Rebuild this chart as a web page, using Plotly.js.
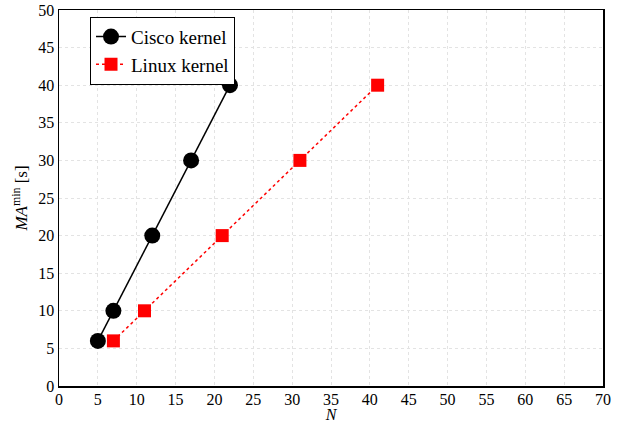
<!DOCTYPE html>
<html>
<head>
<meta charset="utf-8">
<script src="https://cdn.plot.ly/plotly-3.0.1.min.js"></script>
<style>html,body{margin:0;padding:0;background:#fff;}#chart{width:628px;height:423px;}</style>
</head>
<body>
<div id="chart"></div>
<script>
const ciscoN = [5, 7, 12, 17, 22];
const ciscoMA = [6, 10, 20, 30, 40];
const linuxN = [7, 11, 21, 31, 41];
const linuxMA = [6, 10, 20, 30, 40];
const xTicks = [0,5,10,15,20,25,30,35,40,45,50,55,60,65,70];
const yTicks = [0,5,10,15,20,25,30,35,40,45,50];

const FAM = '"Liberation Serif", "DejaVu Serif", serif';
function f(size) { return {family: FAM, size: size, color: '#000'}; }

const traces = [
  {x: ciscoN, y: ciscoMA, name: 'Cisco kernel', mode: 'lines+markers',
   line: {color: '#000', width: 1.5, dash: 'solid'},
   marker: {symbol: 'circle', size: 16, color: '#000'}},
  {x: linuxN, y: linuxMA, name: 'Linux kernel', mode: 'lines+markers',
   line: {color: '#ff0000', width: 1.5, dash: 'dot'},
   marker: {symbol: 'square', size: 13, color: '#ff0000'}}
];

const layout = {
  width: 628, height: 423,
  margin: {l: 59, r: 25, t: 10, b: 37},
  paper_bgcolor: '#fff', plot_bgcolor: '#fff',
  font: f(16),
  showlegend: true,
  legend: {x: 0.057, y: 0.982, xanchor: 'left', yanchor: 'top',
           bgcolor: '#fff', bordercolor: '#000', borderwidth: 1,
           font: f(19), tracegroupgap: 0, itemwidth: 30},
  xaxis: {range: [0, 70], tickvals: xTicks, ticktext: xTicks.map(String),
          showgrid: true, gridcolor: '#e3e3e3', griddash: 'dot', gridwidth: 1,
          showline: true, linecolor: '#000', linewidth: 1.5, mirror: true,
          zeroline: false, ticks: '', tickfont: f(16), automargin: false,
          ticklabelstandoff: -2,
          title: {text: '<i>N</i>', font: f(16), standoff: 0}},
  yaxis: {range: [0, 50], tickvals: yTicks, ticktext: yTicks.map(String),
          showgrid: true, gridcolor: '#e3e3e3', griddash: 'dot', gridwidth: 1,
          showline: true, linecolor: '#000', linewidth: 1.5, mirror: true,
          zeroline: false, ticks: '', tickfont: f(16), automargin: false,
          title: {text: '<i>MA</i><sup>min</sup> [s]', font: f(17), standoff: 6}}
};

Plotly.newPlot('chart', traces, layout, {displayModeBar: false, staticPlot: true});
</script>
</body>
</html>
